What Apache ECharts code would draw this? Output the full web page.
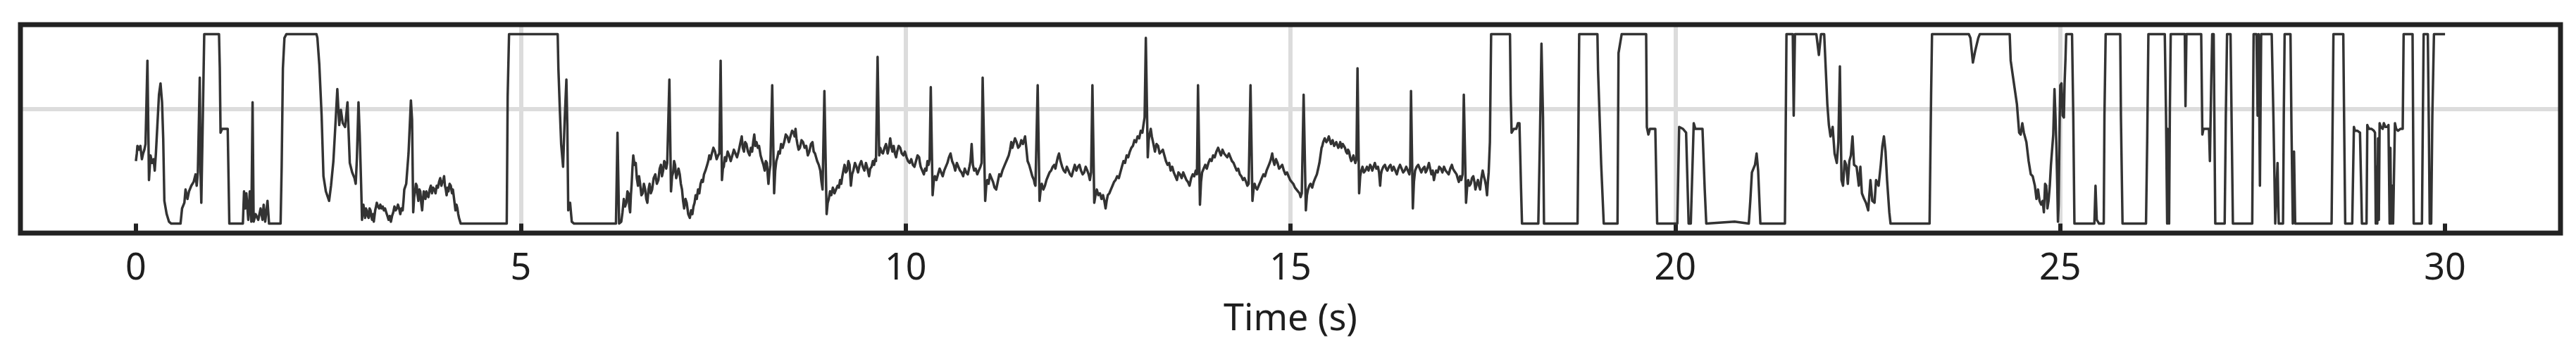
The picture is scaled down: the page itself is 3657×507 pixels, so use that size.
<!DOCTYPE html>
<html><head><meta charset="utf-8">
<script src="https://cdn.jsdelivr.net/npm/echarts@6/dist/echarts.min.js"></script>
<style>html,body{margin:0;padding:0;background:#fff}#chart{width:3657px;height:507px}</style>
</head><body><div id="chart"></div>
<script>
const xTickValues = [0, 5, 10, 15, 20, 25, 30];
const xAxisTitle = 'Time (s)';

// [time (s), level] pairs (level: 0 = lower clip, 100 = upper clip)
const signal_00_05 = [[0.000,33],[0.012,37],[0.02,41],[0.04,39],[0.058,41],[0.078,34],[0.094,37],[0.11,39],[0.125,42],[0.15,86],[0.17,23],[0.19,36],[0.21,32],[0.23,34],[0.245,28],[0.26,37],[0.3,68],[0.32,74],[0.34,64],[0.355,45],[0.37,12],[0.4,5],[0.43,1],[0.46,0],[0.58,0],[0.6,8],[0.63,11],[0.645,18],[0.67,13],[0.69,17],[0.72,20],[0.75,22],[0.775,26],[0.79,20],[0.805,27],[0.83,77],[0.84,27],[0.85,11],[0.865,45],[0.888,100],[1.08,100],[1.09,82],[1.1,48],[1.12,50],[1.193,50],[1.214,0],[1.39,0],[1.405,17],[1.42,8],[1.435,16],[1.46,2],[1.48,17],[1.5,1],[1.516,64],[1.53,1],[1.555,5],[1.59,2],[1.62,8],[1.645,2],[1.66,10],[1.68,1],[1.71,12],[1.73,0],[1.88,0],[1.894,30],[1.91,82],[1.93,98],[1.955,100],[2.346,100],[2.358,98],[2.383,84],[2.413,57],[2.437,25],[2.468,17],[2.51,12],[2.535,20],[2.566,33],[2.596,55],[2.617,71],[2.642,52],[2.663,60],[2.688,53],[2.718,51],[2.749,64],[2.779,32],[2.81,27],[2.84,24],[2.856,21],[2.871,34],[2.892,64],[2.908,47],[2.926,21],[2.938,2],[2.947,7],[2.956,10],[2.967,6],[2.978,3],[2.988,8],[2.999,7],[3.012,4],[3.024,3],[3.036,8],[3.048,7],[3.058,4],[3.069,2],[3.08,5],[3.091,1],[3.1,4],[3.109,7],[3.12,9],[3.13,11],[3.145,9],[3.161,8],[3.176,10],[3.191,8],[3.207,9],[3.222,7],[3.237,8],[3.252,6],[3.268,4],[3.283,2],[3.298,4],[3.313,1],[3.328,4],[3.344,6],[3.359,9],[3.374,7],[3.39,8],[3.405,10],[3.42,8],[3.435,5],[3.45,8],[3.466,7],[3.477,12],[3.487,18],[3.512,21],[3.542,37],[3.573,65],[3.588,55],[3.603,6],[3.615,14],[3.628,17],[3.638,21],[3.649,20],[3.66,15],[3.67,12],[3.683,18],[3.695,17],[3.707,11],[3.719,7],[3.73,13],[3.74,17],[3.751,15],[3.762,13],[3.774,17],[3.786,15],[3.8,14],[3.817,18],[3.832,20],[3.847,16],[3.862,19],[3.878,18],[3.893,16],[3.908,20],[3.924,19],[3.939,22],[3.954,24],[3.969,20],[3.982,22],[3.994,23],[4.004,25],[4.015,20],[4.026,18],[4.037,15],[4.049,19],[4.061,17],[4.076,21],[4.091,20],[4.099,18],[4.107,16],[4.118,18],[4.128,15],[4.14,11],[4.152,7],[4.165,10],[4.177,8],[4.188,5],[4.198,3],[4.22,0],[4.818,0],[4.83,67],[4.848,100]];

const signal_05_10 = [[5.48,100],[5.489,82],[5.51,58],[5.525,42],[5.55,30],[5.571,55],[5.593,76],[5.605,52],[5.617,7],[5.641,11],[5.663,1],[5.693,0],[6.237,0],[6.257,48],[6.278,0],[6.306,1],[6.322,6],[6.339,13],[6.355,9],[6.372,11],[6.386,17],[6.4,16],[6.41,9],[6.421,6],[6.431,15],[6.441,21],[6.452,30],[6.462,36],[6.478,31],[6.494,32],[6.508,24],[6.523,20],[6.537,25],[6.551,21],[6.568,15],[6.584,16],[6.6,21],[6.617,18],[6.631,13],[6.645,11],[6.66,18],[6.674,21],[6.69,16],[6.707,18],[6.727,24],[6.748,26],[6.768,21],[6.788,23],[6.805,29],[6.821,31],[6.835,25],[6.85,28],[6.864,33],[6.878,32],[6.89,29],[6.903,32],[6.931,76],[6.952,17],[6.966,25],[6.98,27],[6.992,33],[7.005,31],[7.019,24],[7.033,26],[7.05,29],[7.066,26],[7.08,21],[7.095,18],[7.109,12],[7.123,8],[7.14,13],[7.156,11],[7.176,5],[7.197,3],[7.213,7],[7.23,5],[7.244,9],[7.258,11],[7.272,15],[7.287,13],[7.303,18],[7.32,16],[7.336,21],[7.352,23],[7.366,22],[7.381,26],[7.4,28],[7.422,31],[7.436,33],[7.45,36],[7.466,34],[7.483,37],[7.503,40],[7.524,38],[7.545,34],[7.565,36],[7.58,37],[7.597,86],[7.614,23],[7.626,29],[7.638,30],[7.652,35],[7.667,33],[7.688,38],[7.708,36],[7.728,33],[7.749,36],[7.769,39],[7.789,37],[7.81,35],[7.83,38],[7.85,42],[7.871,46],[7.885,40],[7.9,38],[7.916,43],[7.932,42],[7.952,38],[7.973,36],[7.99,40],[8.006,38],[8.02,43],[8.034,47],[8.048,41],[8.063,43],[8.08,40],[8.096,41],[8.116,36],[8.137,33],[8.153,31],[8.169,28],[8.184,33],[8.198,32],[8.208,26],[8.218,21],[8.23,27],[8.243,31],[8.267,73],[8.292,16],[8.306,28],[8.32,33],[8.335,35],[8.349,38],[8.366,37],[8.382,42],[8.402,40],[8.423,43],[8.443,47],[8.463,46],[8.484,43],[8.504,46],[8.525,49],[8.545,48],[8.558,46],[8.57,50],[8.582,45],[8.594,42],[8.61,39],[8.627,40],[8.648,44],[8.668,43],[8.688,40],[8.709,41],[8.73,36],[8.749,38],[8.77,42],[8.79,43],[8.806,38],[8.823,37],[8.837,35],[8.851,33],[8.872,31],[8.892,28],[8.907,22],[8.921,18],[8.945,70],[8.974,5],[8.988,11],[9.002,13],[9.018,17],[9.035,15],[9.055,19],[9.076,16],[9.096,18],[9.117,20],[9.133,19],[9.149,23],[9.164,21],[9.178,25],[9.192,28],[9.207,31],[9.224,27],[9.24,28],[9.256,33],[9.272,31],[9.28,26],[9.289,20],[9.305,26],[9.321,28],[9.342,32],[9.362,30],[9.382,27],[9.403,31],[9.424,33],[9.444,30],[9.465,28],[9.485,32],[9.505,29],[9.525,25],[9.54,29],[9.558,30],[9.575,33],[9.591,31],[9.603,34],[9.615,33],[9.636,88],[9.657,36],[9.671,40],[9.685,38],[9.705,37],[9.726,40],[9.746,42],[9.767,37],[9.784,40],[9.8,45],[9.814,41],[9.828,38],[9.845,41],[9.861,37],[9.876,35],[9.89,38],[9.91,41],[9.93,40],[9.95,37],[9.971,36],[9.99,38]];

const signal_10_15 = [[10.012,35],[10.032,33],[10.053,32],[10.073,34],[10.094,31],[10.115,30],[10.135,33],[10.155,36],[10.176,35],[10.186,32],[10.196,30],[10.216,28],[10.237,26],[10.253,29],[10.27,28],[10.284,33],[10.298,31],[10.312,34],[10.327,72],[10.351,15],[10.365,22],[10.38,25],[10.4,23],[10.421,26],[10.442,29],[10.462,27],[10.482,25],[10.502,28],[10.522,30],[10.543,32],[10.563,35],[10.584,37],[10.604,33],[10.625,31],[10.645,28],[10.666,32],[10.686,30],[10.707,28],[10.727,27],[10.748,25],[10.768,29],[10.788,27],[10.808,26],[10.829,30],[10.843,33],[10.858,42],[10.874,31],[10.89,28],[10.91,29],[10.931,26],[10.951,28],[10.972,30],[10.987,32],[11.001,77],[11.034,12],[11.048,20],[11.062,23],[11.078,21],[11.095,26],[11.115,24],[11.136,22],[11.156,19],[11.177,18],[11.197,22],[11.217,26],[11.237,25],[11.258,28],[11.278,30],[11.299,32],[11.32,34],[11.34,36],[11.357,39],[11.373,43],[11.387,40],[11.401,42],[11.421,45],[11.442,43],[11.462,40],[11.483,41],[11.503,44],[11.524,42],[11.538,44],[11.552,46],[11.568,40],[11.585,33],[11.605,31],[11.626,28],[11.646,25],[11.667,23],[11.677,21],[11.687,20],[11.716,73],[11.74,12],[11.755,18],[11.769,21],[11.79,18],[11.81,20],[11.83,23],[11.85,25],[11.87,27],[11.891,28],[11.911,30],[11.932,31],[11.946,29],[11.961,32],[11.977,35],[11.993,37],[12.013,33],[12.034,30],[12.054,28],[12.075,27],[12.095,30],[12.116,28],[12.136,26],[12.157,25],[12.177,28],[12.198,31],[12.218,28],[12.239,30],[12.259,31],[12.279,28],[12.3,26],[12.32,27],[12.34,30],[12.361,28],[12.378,26],[12.394,23],[12.41,27],[12.427,73],[12.451,11],[12.467,15],[12.484,18],[12.504,15],[12.525,16],[12.545,13],[12.565,15],[12.582,12],[12.598,8],[12.612,12],[12.627,15],[12.647,16],[12.667,18],[12.688,20],[12.708,22],[12.728,23],[12.749,25],[12.77,24],[12.79,27],[12.81,30],[12.831,33],[12.851,32],[12.872,36],[12.892,35],[12.913,38],[12.933,40],[12.953,41],[12.973,44],[12.994,43],[13.014,46],[13.035,45],[13.055,49],[13.076,48],[13.09,52],[13.105,56],[13.121,98],[13.146,35],[13.158,44],[13.17,47],[13.185,50],[13.199,46],[13.22,42],[13.239,38],[13.26,42],[13.28,41],[13.3,37],[13.321,38],[13.342,39],[13.362,36],[13.382,33],[13.403,31],[13.424,32],[13.444,28],[13.464,30],[13.484,27],[13.505,25],[13.525,23],[13.545,27],[13.566,26],[13.586,24],[13.607,27],[13.627,25],[13.648,23],[13.668,22],[13.689,20],[13.71,24],[13.73,26],[13.75,25],[13.77,28],[13.785,26],[13.799,73],[13.824,10],[13.838,22],[13.852,27],[13.872,29],[13.893,31],[13.913,29],[13.934,32],[13.955,34],[13.975,33],[13.995,36],[14.016,35],[14.038,38],[14.06,40],[14.078,38],[14.097,36],[14.117,39],[14.138,37],[14.158,36],[14.179,35],[14.2,37],[14.22,35],[14.24,33],[14.261,32],[14.281,30],[14.301,28],[14.321,29],[14.342,26],[14.362,25],[14.383,23],[14.403,24],[14.424,22],[14.44,20],[14.457,21],[14.481,73],[14.506,12],[14.52,18],[14.534,21],[14.55,19],[14.567,18],[14.587,20],[14.608,22],[14.628,24],[14.649,26],[14.669,25],[14.69,28],[14.71,30],[14.73,32],[14.746,34],[14.763,37],[14.778,33],[14.792,31],[14.812,34],[14.832,32],[14.852,29],[14.873,30],[14.893,31],[14.914,28],[14.934,26],[14.955,27],[14.975,25]];

const signal_15_20 = [[14.996,23],[15.016,22],[15.037,21],[15.058,19],[15.078,18],[15.098,17],[15.118,16],[15.132,14],[15.147,16],[15.171,68],[15.2,7],[15.214,15],[15.228,18],[15.245,20],[15.261,21],[15.282,19],[15.302,22],[15.322,24],[15.343,26],[15.36,29],[15.376,32],[15.39,36],[15.404,40],[15.414,41],[15.425,43],[15.445,45],[15.466,43],[15.482,44],[15.498,46],[15.512,44],[15.527,42],[15.548,44],[15.568,41],[15.595,43],[15.621,40],[15.634,41],[15.647,43],[15.663,40],[15.679,42],[15.694,41],[15.708,40],[15.722,38],[15.736,37],[15.748,39],[15.761,38],[15.775,35],[15.79,33],[15.804,34],[15.818,36],[15.83,34],[15.843,32],[15.857,34],[15.871,82],[15.892,16],[15.906,25],[15.92,28],[15.936,30],[15.953,27],[15.973,28],[15.994,30],[16.014,28],[16.035,31],[16.049,30],[16.063,28],[16.08,30],[16.096,32],[16.116,29],[16.137,30],[16.151,27],[16.165,20],[16.176,26],[16.186,28],[16.206,30],[16.227,31],[16.243,29],[16.259,28],[16.28,30],[16.3,31],[16.32,28],[16.341,30],[16.362,28],[16.382,26],[16.402,29],[16.423,31],[16.444,29],[16.464,27],[16.484,28],[16.504,30],[16.525,28],[16.545,26],[16.556,30],[16.566,70],[16.59,8],[16.604,22],[16.619,28],[16.64,30],[16.66,31],[16.68,29],[16.7,27],[16.72,29],[16.741,30],[16.756,27],[16.77,28],[16.785,30],[16.799,32],[16.815,29],[16.831,26],[16.848,28],[16.864,23],[16.878,26],[16.893,28],[16.913,27],[16.933,30],[16.954,29],[16.974,27],[16.995,30],[17.015,28],[17.036,27],[17.056,26],[17.076,29],[17.097,31],[17.111,29],[17.125,28],[17.142,27],[17.158,26],[17.172,24],[17.187,22],[17.203,25],[17.219,23],[17.236,26],[17.252,68],[17.281,11],[17.295,19],[17.309,23],[17.325,20],[17.342,21],[17.358,24],[17.375,25],[17.39,22],[17.403,18],[17.42,21],[17.436,23],[17.45,20],[17.464,18],[17.48,24],[17.497,28],[17.512,25],[17.526,23],[17.54,20],[17.554,15],[17.565,22],[17.575,27],[17.591,43],[17.607,100],[17.852,100],[17.861,68],[17.873,48],[17.902,50],[17.934,50],[17.955,53],[17.975,53],[17.996,18],[18.008,0],[18.22,0],[18.24,43],[18.261,95],[18.281,56],[18.294,0],[18.73,0],[18.741,50],[18.751,100],[18.988,100],[18.996,81],[19.037,31],[19.07,0],[19.249,0],[19.262,90],[19.303,100],[19.621,100],[19.63,51],[19.65,47],[19.67,50],[19.74,50],[19.764,0]];

const signal_20_25 = [[20.026,0],[20.05,51],[20.099,50],[20.14,48],[20.173,0],[20.201,0],[20.239,53],[20.26,50],[20.353,50],[20.382,18],[20.402,0],[20.77,1],[20.954,0],[20.974,12],[20.995,27],[21.035,31],[21.056,37],[21.076,28],[21.105,0],[21.424,0],[21.444,100],[21.526,100],[21.538,57],[21.554,100],[21.832,100],[21.865,89],[21.893,100],[21.934,100],[21.955,81],[21.975,63],[21.995,52],[22.016,46],[22.044,51],[22.069,37],[22.098,32],[22.118,43],[22.138,83],[22.159,23],[22.179,20],[22.2,33],[22.22,31],[22.241,21],[22.261,33],[22.281,36],[22.302,46],[22.322,31],[22.355,30],[22.384,20],[22.404,30],[22.424,16],[22.453,13],[22.477,11],[22.506,7],[22.535,23],[22.559,12],[22.588,11],[22.608,23],[22.641,20],[22.669,31],[22.69,41],[22.71,46],[22.731,38],[22.751,23],[22.78,6],[22.796,0],[23.303,0],[23.323,68],[23.335,100],[23.813,100],[23.834,98],[23.866,85],[23.895,91],[23.936,98],[23.956,100],[24.344,100],[24.357,86],[24.385,78],[24.406,72],[24.438,63],[24.467,48],[24.487,47],[24.508,53],[24.528,48],[24.561,43],[24.59,33],[24.618,26],[24.643,25],[24.671,20],[24.692,13],[24.712,18],[24.732,12],[24.753,10],[24.773,12],[24.788,6],[24.804,21],[24.819,20],[24.834,8],[24.849,12],[24.865,20],[24.88,31],[24.895,39],[24.91,47],[24.926,71],[24.941,54],[24.95,42],[24.962,20],[24.971,1],[24.98,10],[24.993,54]];

const signal_25_30 = [[25.002,73],[25.017,74],[25.032,57],[25.048,56],[25.057,74],[25.069,87],[25.078,100],[25.154,100],[25.17,57],[25.185,0],[25.444,0],[25.459,20],[25.475,2],[25.505,0],[25.566,0],[25.575,57],[25.591,100],[25.78,100],[25.789,57],[25.81,0],[26.115,0],[26.131,45],[26.146,100],[26.359,100],[26.375,57],[26.39,0],[26.395,50],[26.4,2],[26.41,45],[26.415,0],[26.425,60],[26.436,100],[26.619,100],[26.628,62],[26.64,100],[26.832,100],[26.847,47],[26.862,50],[26.933,50],[26.945,33],[26.963,76],[26.975,100],[26.994,100],[27.015,0],[27.137,0],[27.152,57],[27.168,100],[27.213,100],[27.244,0],[27.495,0],[27.505,57],[27.513,100],[27.55,100],[27.565,57],[27.578,100],[27.595,20],[27.611,100],[27.748,100],[27.77,57],[27.794,0],[27.809,0],[27.824,32],[27.839,0],[27.895,0],[27.905,57],[27.916,100],[27.992,100],[28.005,50],[28.022,0],[28.038,38],[28.053,0],[28.526,0],[28.54,57],[28.55,100],[28.678,100],[28.69,50],[28.703,0],[28.794,0],[28.816,51],[28.83,49],[28.86,49],[28.895,48],[28.91,20],[28.92,0],[28.98,0],[28.99,52],[29,51],[29.015,50],[29.045,50],[29.075,49],[29.09,48],[29.1,0],[29.11,30],[29.12,0],[29.13,45],[29.14,2],[29.15,53],[29.165,51],[29.19,50],[29.205,53],[29.225,51],[29.25,51],[29.265,52],[29.28,0],[29.29,40],[29.3,0],[29.315,20],[29.325,0],[29.349,53],[29.365,50],[29.39,49],[29.42,50],[29.45,50],[29.462,100],[29.578,100],[29.593,0],[29.7,0],[29.712,57],[29.722,100],[29.776,100],[29.79,50],[29.801,0],[29.82,0],[29.835,57],[29.856,100],[30,100]];

const signal = [].concat(signal_00_05, signal_05_10, signal_10_15, signal_15_20, signal_20_25, signal_25_30);

const chart = echarts.init(document.getElementById('chart'), null, { renderer: 'canvas' });
chart.setOption({
  animation: false,
  backgroundColor: '#ffffff',
  grid: { left: 29, right: 22, top: 35, bottom: 176, show: true, z: 1, borderColor: '#222222', borderWidth: 7, backgroundColor: 'transparent' },
  xAxis: {
    type: 'value', min: -1.5, max: 31.5, z: 0,
    axisLine: { show: false },
    axisTick: { show: true, customValues: xTickValues, length: 16, lineStyle: { color: '#222222', width: 6 } },
    axisLabel: { customValues: xTickValues, margin: 25, fontSize: 52, fontFamily: 'Noto Sans', color: '#1e1e1e' },
    splitLine: { show: true, showMinLine: false, showMaxLine: false, lineStyle: { color: '#dcdcdc', width: 6 } },
    name: xAxisTitle, nameLocation: 'middle', nameGap: 97,
    nameTextStyle: { fontSize: 52, fontFamily: 'Noto Sans', color: '#1e1e1e' }
  },
  yAxis: {
    type: 'value', min: -5, max: 105, interval: 65.4, z: 0,
    axisLine: { show: false }, axisTick: { show: false }, axisLabel: { show: false },
    splitLine: { show: true, showMinLine: false, showMaxLine: false, lineStyle: { color: '#dcdcdc', width: 6 } }
  },
  series: [{
    type: 'line', data: signal, showSymbol: false, symbol: 'none', silent: true,
    lineStyle: { color: '#333333', width: 3.5, join: 'round' }, z: 3
  }]
});
</script></body></html>
